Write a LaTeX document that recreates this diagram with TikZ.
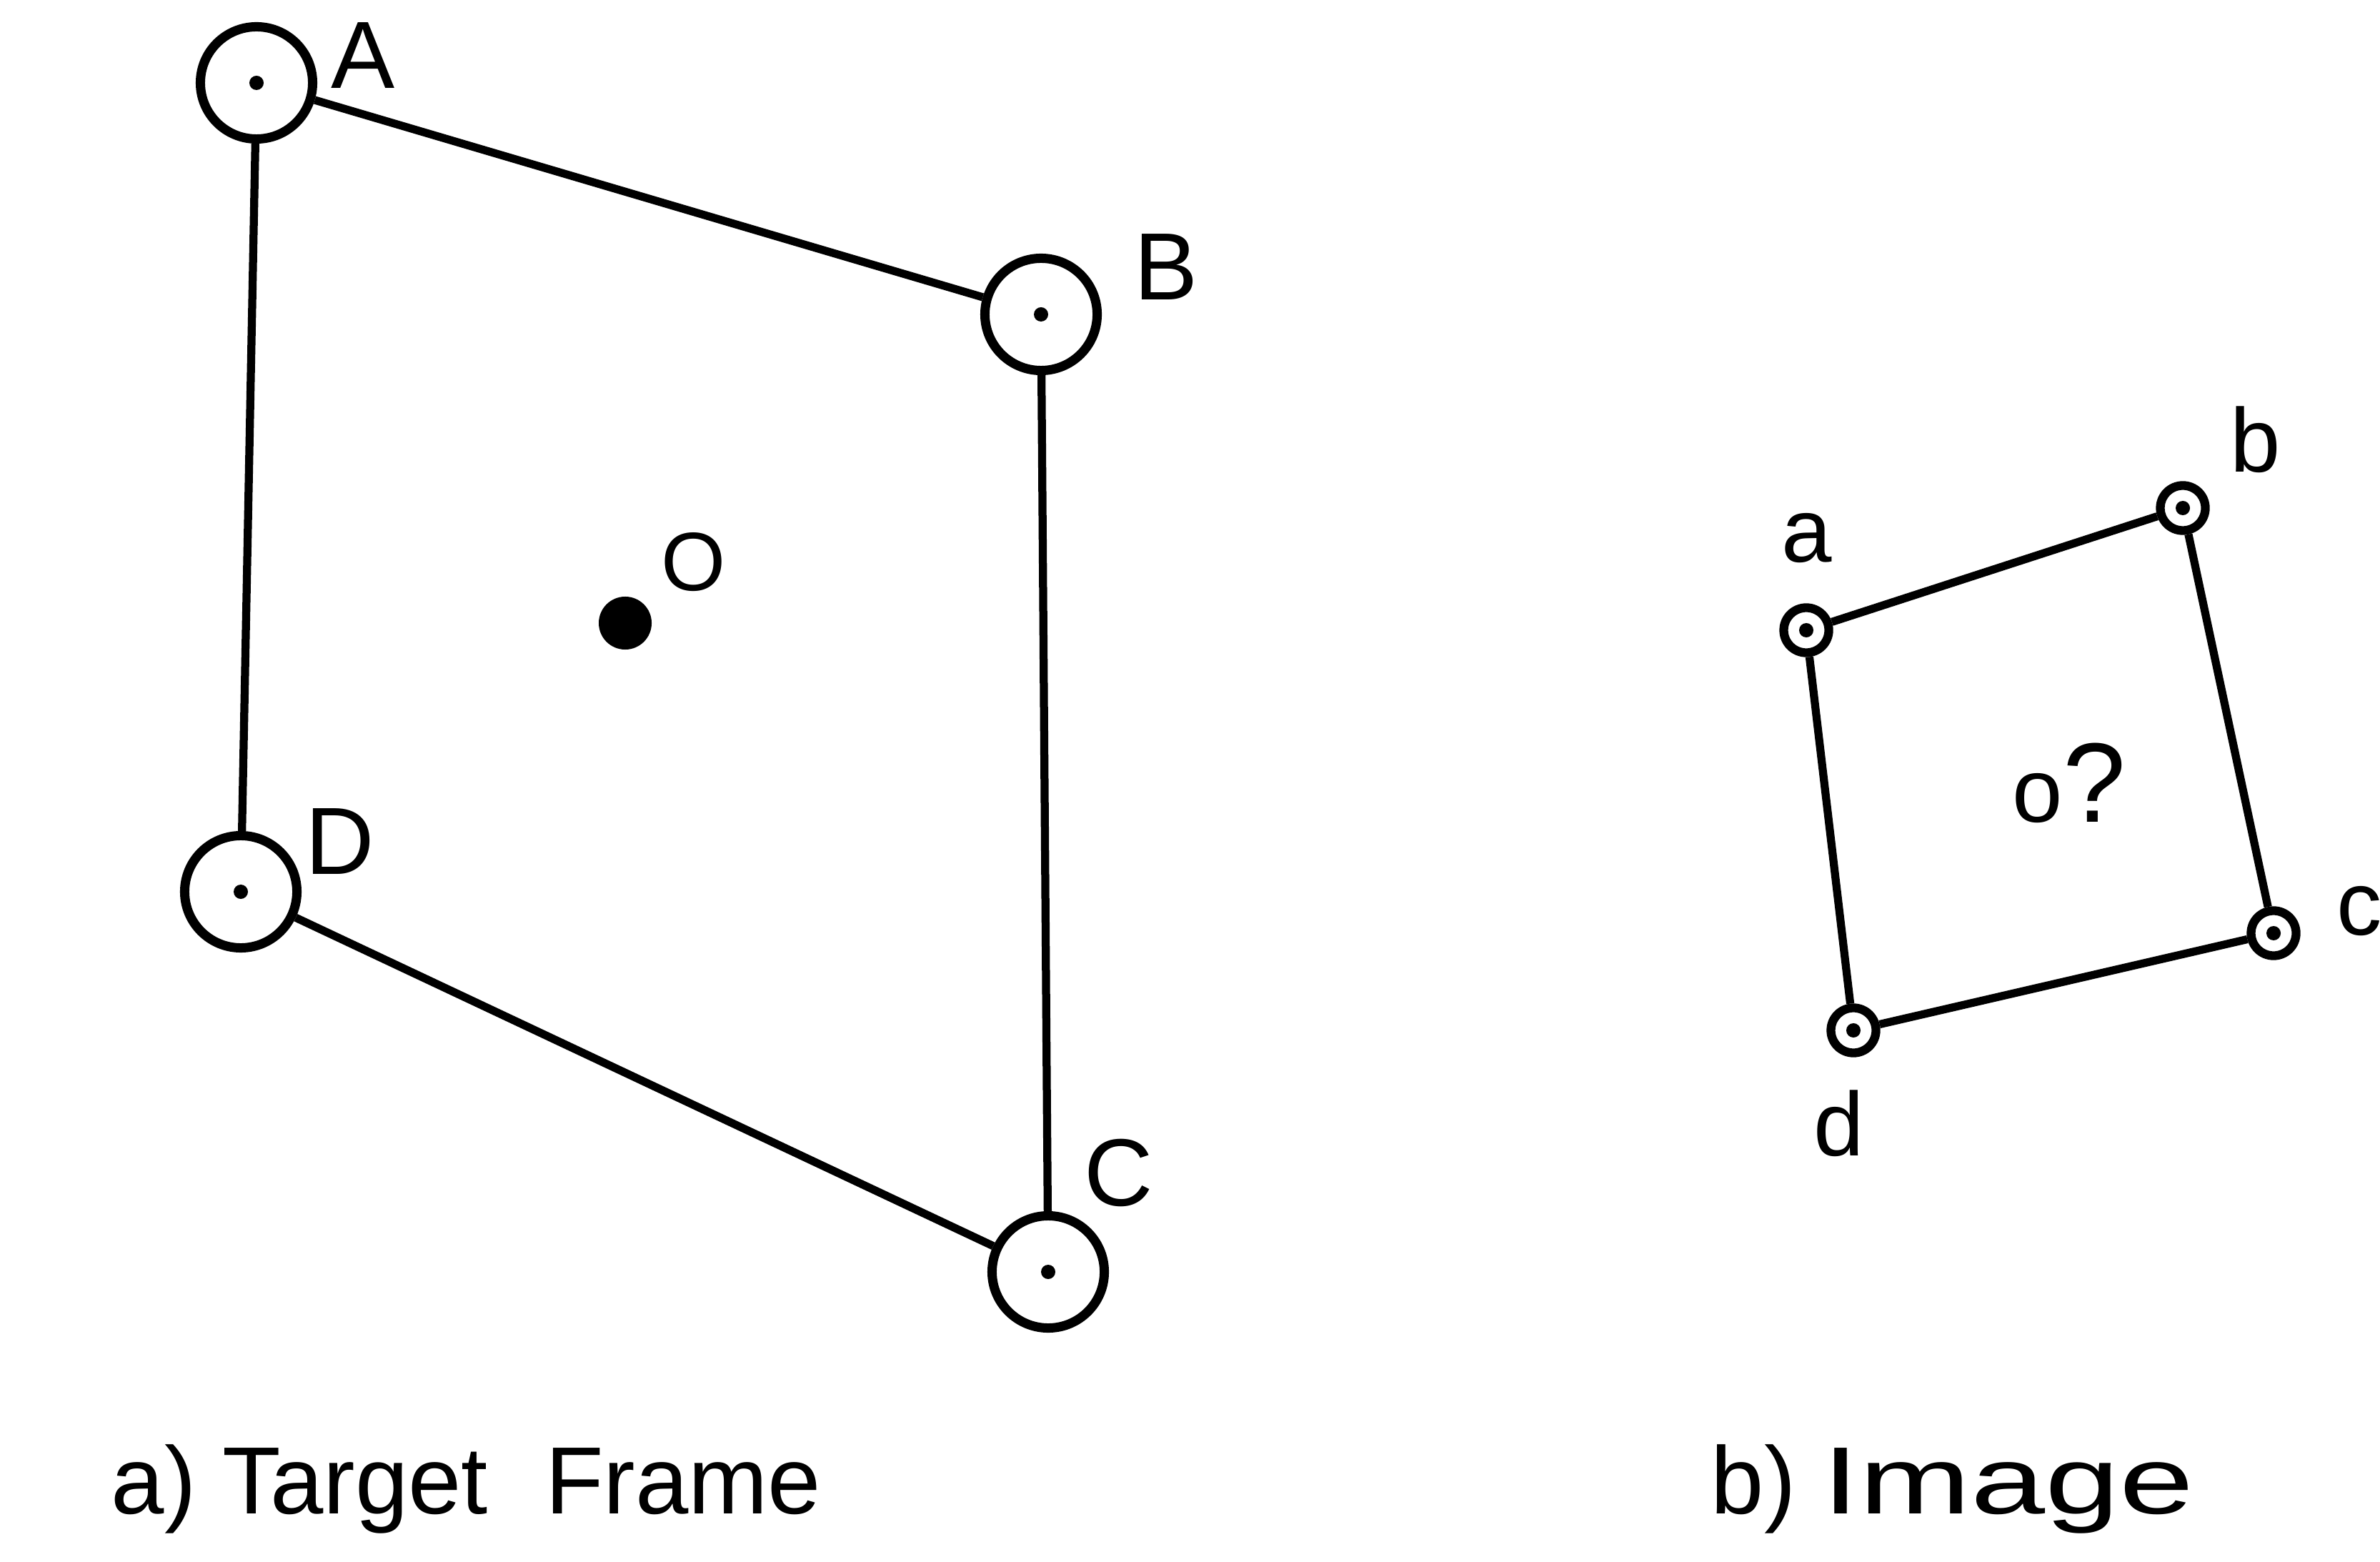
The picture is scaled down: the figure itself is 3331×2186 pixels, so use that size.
\documentclass[tikz,border=0pt]{standalone}
\usepackage{fontspec}
\setmainfont{Liberation Sans}
\begin{document}
\begin{tikzpicture}[x=0.01cm,y=-0.01cm,
  bigring/.style={circle,draw,line width=3.7pt,minimum size=1.57cm,inner sep=0pt},
  smallring/.style={circle,draw,line width=3.5pt,minimum size=0.63cm,inner sep=0pt},
  link/.style={line width=3.2pt},
  caplabel/.style={font=\fontsize{38}{40}\selectfont,inner sep=0pt},
  lowlabel/.style={font=\fontsize{36}{40}\selectfont,inner sep=0pt}]
\useasboundingbox (0,0) rectangle (3331,2186);
% target frame
\node[bigring] (A) at (359,116) {};
\node[bigring] (B) at (1457,440) {};
\node[bigring] (C) at (1467,1780) {};
\node[bigring] (D) at (337,1248) {};
\foreach \n in {A,B,C,D} \fill (\n.center) circle[radius=0.1cm];
\draw[link] (A) -- (B);
\draw[link] (B) -- (C);
\draw[link] (C) -- (D);
\draw[link] (D) -- (A);
\node[circle,fill,minimum size=0.74cm,inner sep=0pt] (O) at (875,872) {};
\node[caplabel] (lA) at (508,78) {A};
\node[caplabel] (lB) at (1632,374) {B};
\node[caplabel] (lC) at (1566,1641) {C};
\node[caplabel] (lD) at (476,1178) {D};
\node[font=\fontsize{33}{40}\selectfont,inner sep=0pt] (lO) at (971,787) {O};
% image
\node[smallring] (a) at (2528,882) {};
\node[smallring] (b) at (3055,711) {};
\node[smallring] (c) at (3182,1306) {};
\node[smallring] (d) at (2594,1442) {};
\foreach \n in {a,b,c,d} \fill (\n.center) circle[radius=0.1cm];
\draw[link] (a) -- (b);
\draw[link] (b) -- (c);
\draw[link] (c) -- (d);
\draw[link] (d) -- (a);
\node[lowlabel] (la) at (2529,753) {a};
\node[lowlabel] (lb) at (3157,615) {b};
\node[lowlabel] (lc) at (3302,1275) {c};
\node[lowlabel] (ld) at (2574,1572) {d};
\node[inner sep=0pt,anchor=base west] (lo) at (2816,1150) {\fontsize{36}{40}\selectfont o\fontsize{45}{50}\selectfont ?};
% captions
\node[caplabel,anchor=base west] (capa) at (155,2118) {a) Target\hspace{0.6em}Frame};
\node[caplabel,anchor=base west] (capb) at (2394,2118) {b) \scalebox{1.4}[1]{Image}};
\end{tikzpicture}
\end{document}
